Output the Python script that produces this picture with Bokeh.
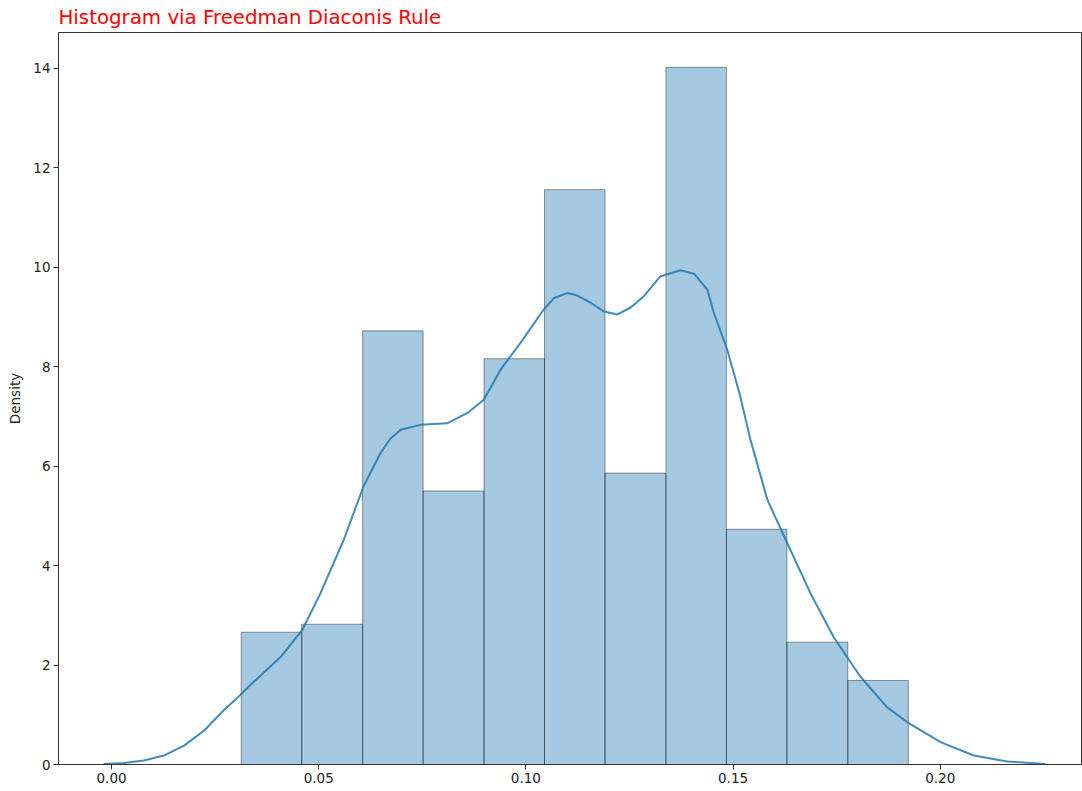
from bokeh.plotting import figure
from bokeh.embed import file_html
from bokeh.resources import INLINE
from bokeh.models import FixedTicker, PrintfTickFormatter, Range1d, ColumnDataSource

# ---- data ----
bin_edges = [0.0313, 0.0459, 0.0606, 0.0752, 0.0899, 0.1045, 0.1191,
             0.1338, 0.1484, 0.1630, 0.1777, 0.1923]
densities = [2.66, 2.82, 8.72, 5.50, 8.16, 11.56, 5.86, 14.02, 4.73, 2.46, 1.69]

kde_x = [-0.0019, 0.0030, 0.0078, 0.0126, 0.0175, 0.0223, 0.0271, 0.0311,
         0.0335, 0.0408, 0.0460, 0.0504, 0.0560, 0.0608, 0.0649, 0.0673,
         0.0698, 0.0746, 0.0810, 0.0859, 0.0898, 0.0939, 0.0987, 0.1043,
         0.1068, 0.1100, 0.1124, 0.1156, 0.1188, 0.1221, 0.1253, 0.1284,
         0.1325, 0.1373, 0.1406, 0.1438, 0.1453, 0.1486, 0.1516, 0.1542,
         0.1583, 0.1631, 0.1687, 0.1743, 0.1808, 0.1872, 0.1924, 0.2001,
         0.2081, 0.2162, 0.2254]
kde_y = [0.01, 0.03, 0.08, 0.18, 0.38, 0.68, 1.09, 1.40,
         1.60, 2.16, 2.70, 3.44, 4.51, 5.59, 6.26, 6.55,
         6.73, 6.83, 6.86, 7.07, 7.33, 7.94, 8.48, 9.15,
         9.38, 9.48, 9.43, 9.29, 9.11, 9.05, 9.19, 9.41,
         9.82, 9.94, 9.87, 9.55, 9.10, 8.34, 7.45, 6.53,
         5.32, 4.45, 3.44, 2.56, 1.76, 1.15, 0.83, 0.45,
         0.18, 0.06, 0.01]

x_ticks = [0.00, 0.05, 0.10, 0.15, 0.20]
y_ticks = [0, 2, 4, 6, 8, 10, 12, 14]

title_text = "Histogram via Freedman Diaconis Rule"
y_label = "Density"

# ---- figure ----
p = figure(width=1082, height=791, output_backend="svg", toolbar_location=None,
           x_range=Range1d(-0.0128, 0.2341), y_range=Range1d(0, 14.72),
           min_border_left=58, min_border_right=1, min_border_top=10, min_border_bottom=27)

p.title.text = title_text
p.title.text_color = "red"
p.title.text_font = "DejaVu Sans"
p.title.text_font_size = "19.8px"
p.title.text_font_style = "normal"
p.title.align = "left"
p.title.offset = 0
p.title.standoff = 7

src = ColumnDataSource(dict(left=bin_edges[:-1], right=bin_edges[1:],
                            top=densities, bottom=[0] * len(densities)))
p.quad(left="left", right="right", top="top", bottom="bottom", source=src,
       fill_color="#1f77b4", fill_alpha=0.4, line_color="black", line_alpha=0.4,
       line_width=1)

p.line(kde_x, kde_y, line_color="#1f77b4", line_width=2, line_alpha=0.85)

p.grid.visible = False
p.outline_line_color = "#333333"
p.outline_line_width = 1
p.background_fill_color = "white"
p.border_fill_color = "white"

for ax in (p.xaxis[0], p.yaxis[0]):
    ax.axis_line_color = "#333333"
    ax.major_tick_line_color = "#333333"
    ax.major_tick_out = 5
    ax.major_tick_in = 0
    ax.minor_tick_out = 0
    ax.minor_tick_in = 0
    ax.major_label_text_font = "DejaVu Sans"
    ax.major_label_text_font_size = "13.5px"
    ax.major_label_text_color = "#222222"

p.xaxis.major_label_standoff = 3
p.yaxis.major_label_standoff = 3

p.xaxis.ticker = FixedTicker(ticks=x_ticks)
p.xaxis.formatter = PrintfTickFormatter(format="%.2f")
p.yaxis.ticker = FixedTicker(ticks=y_ticks)

p.yaxis.axis_label = y_label
p.yaxis.axis_label_text_font = "DejaVu Sans"
p.yaxis.axis_label_text_font_size = "13.5px"
p.yaxis.axis_label_text_font_style = "normal"
p.yaxis.axis_label_text_color = "#222222"
p.yaxis.axis_label_standoff = 7

open("out.html", "w").write(file_html(p, INLINE))
